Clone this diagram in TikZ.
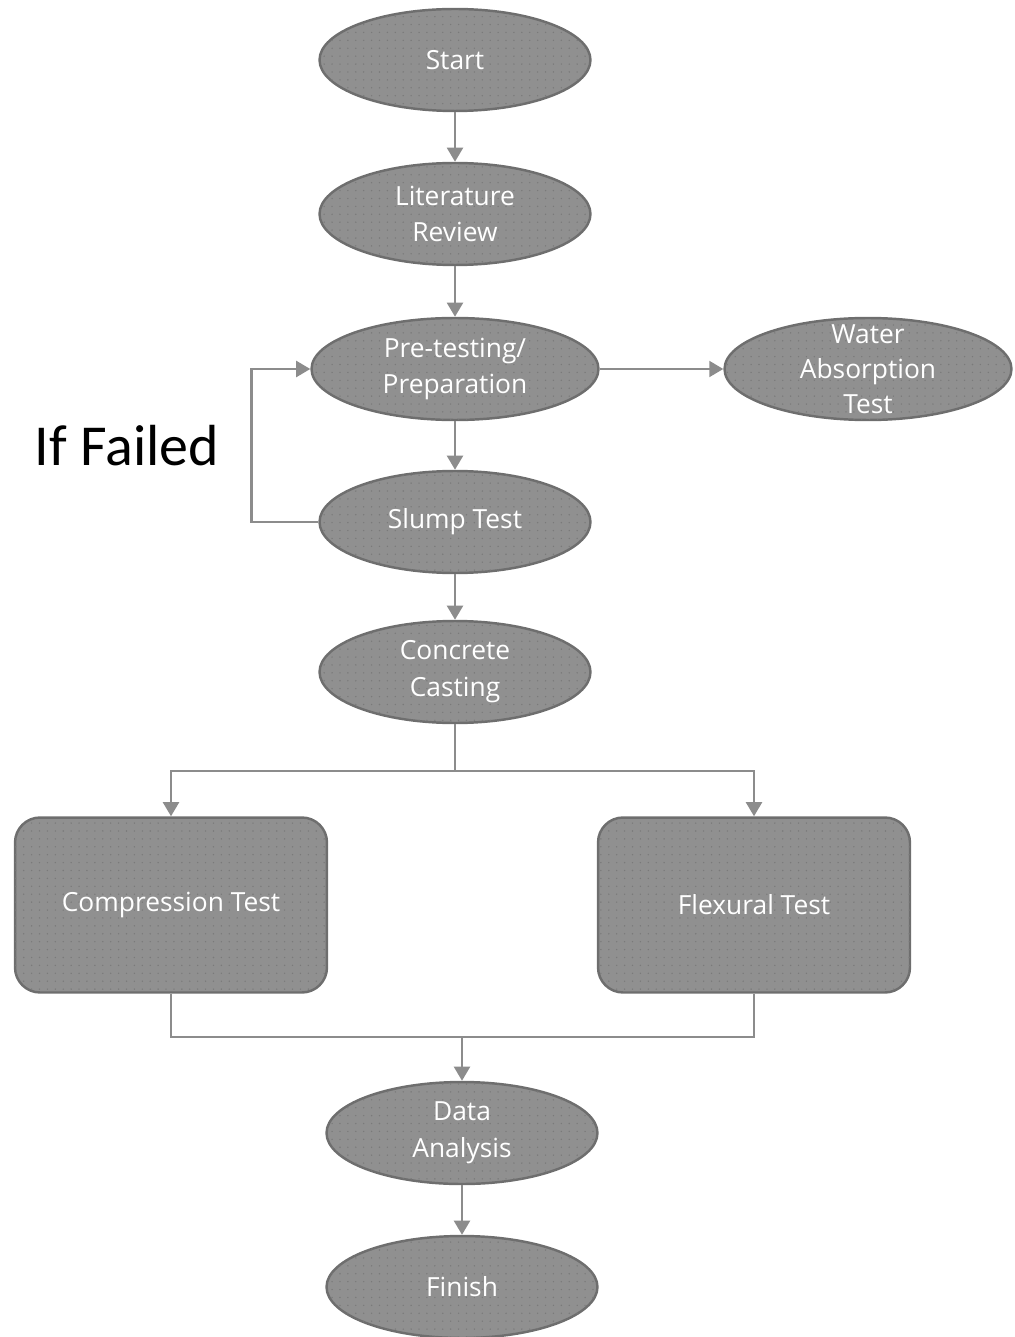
\documentclass[tikz,border=0pt]{standalone}
\usepackage{fontspec}
\setmainfont{Open Sans}
\newfontfamily\failfont{Carlito}
\usetikzlibrary{shapes.geometric,arrows.meta,patterns.meta}
\definecolor{boxgray}{HTML}{909090}
\definecolor{edgegray}{HTML}{6E6E6E}
\definecolor{linegray}{HTML}{8C8C8C}
\definecolor{dotgray}{HTML}{7A7A7A}
\tikzset{
  stage/.style={ellipse, draw=edgegray, line width=1.4pt, fill=boxgray, text=white,
    inner sep=0pt, align=center, minimum width=5.42cm, minimum height=2.04cm,
    font=\fontsize{15}{21}\selectfont,
    postaction={pattern={Dots[distance=4.5pt,radius=0.45pt]}, pattern color=dotgray}},
  widestage/.style={stage, minimum width=5.74cm},
  testbox/.style={rectangle, rounded corners=0.5cm, draw=edgegray, line width=1.4pt,
    fill=boxgray, text=white, minimum width=6.24cm, minimum height=3.5cm,
    font=\fontsize{15}{21}\selectfont,
    postaction={pattern={Dots[distance=4.5pt,radius=0.45pt]}, pattern color=dotgray}},
  wire/.style={draw=linegray, line width=1.5pt},
  flow/.style={wire, -{Triangle[width=9pt,length=8pt]}}
}
\begin{document}
\begin{tikzpicture}[x=0.02cm, y=-0.02cm]
  \useasboundingbox (0,0) rectangle (1014,1337);

  % main column
  \node[stage] (S)  at (455,60)  {Start};
  \node[stage] (L)  at (455,214) {Literature\\Review};
  \node[widestage] (P)  at (455,369) {Pre-testing/\\Preparation};
  \node[widestage] (W)  at (868,369) {};
  \node[text=white, align=center, font=\fontsize{15}{20}\selectfont] (Wt) at (W) {Water\\Absorption\\Test};
  \node[stage] (SL) at (455,522) {Slump Test};
  \node[stage] (C)  at (455,672) {Concrete\\Casting};

  % tests
  \node[testbox] (T1) at (171,905) {Compression Test};
  \node[testbox] (T2) at (754,905) {Flexural Test};

  \node[stage] (D) at (462,1133) {Data\\Analysis};
  \node[stage] (F) at (462,1287) {Finish};

  \node[font=\failfont\fontsize{33}{40}\selectfont] (IF) at (127,446) {If Failed};

  \coordinate (j1) at (455,771);
  \coordinate (j2) at (462,1037);

  \draw[flow] (S) -- (L);
  \draw[flow] (L) -- (P);
  \draw[flow] (P) -- (SL);
  \draw[flow] (P) -- (W);
  % loop back
  \draw[flow] (SL.west) -- ++(-67,0) |- (P.west);
  \draw[flow] (SL) -- (C);

  \draw[wire] (C) -- (j1);
  \draw[flow] (j1) -| (T1);
  \draw[flow] (j1) -| (T2);

  \draw[wire] (T1.south) -- (T1.south |- j2) -| (T2.south);
  \draw[flow] (j2) -- (D);
  \draw[flow] (D) -- (F);
\end{tikzpicture}
\end{document}
